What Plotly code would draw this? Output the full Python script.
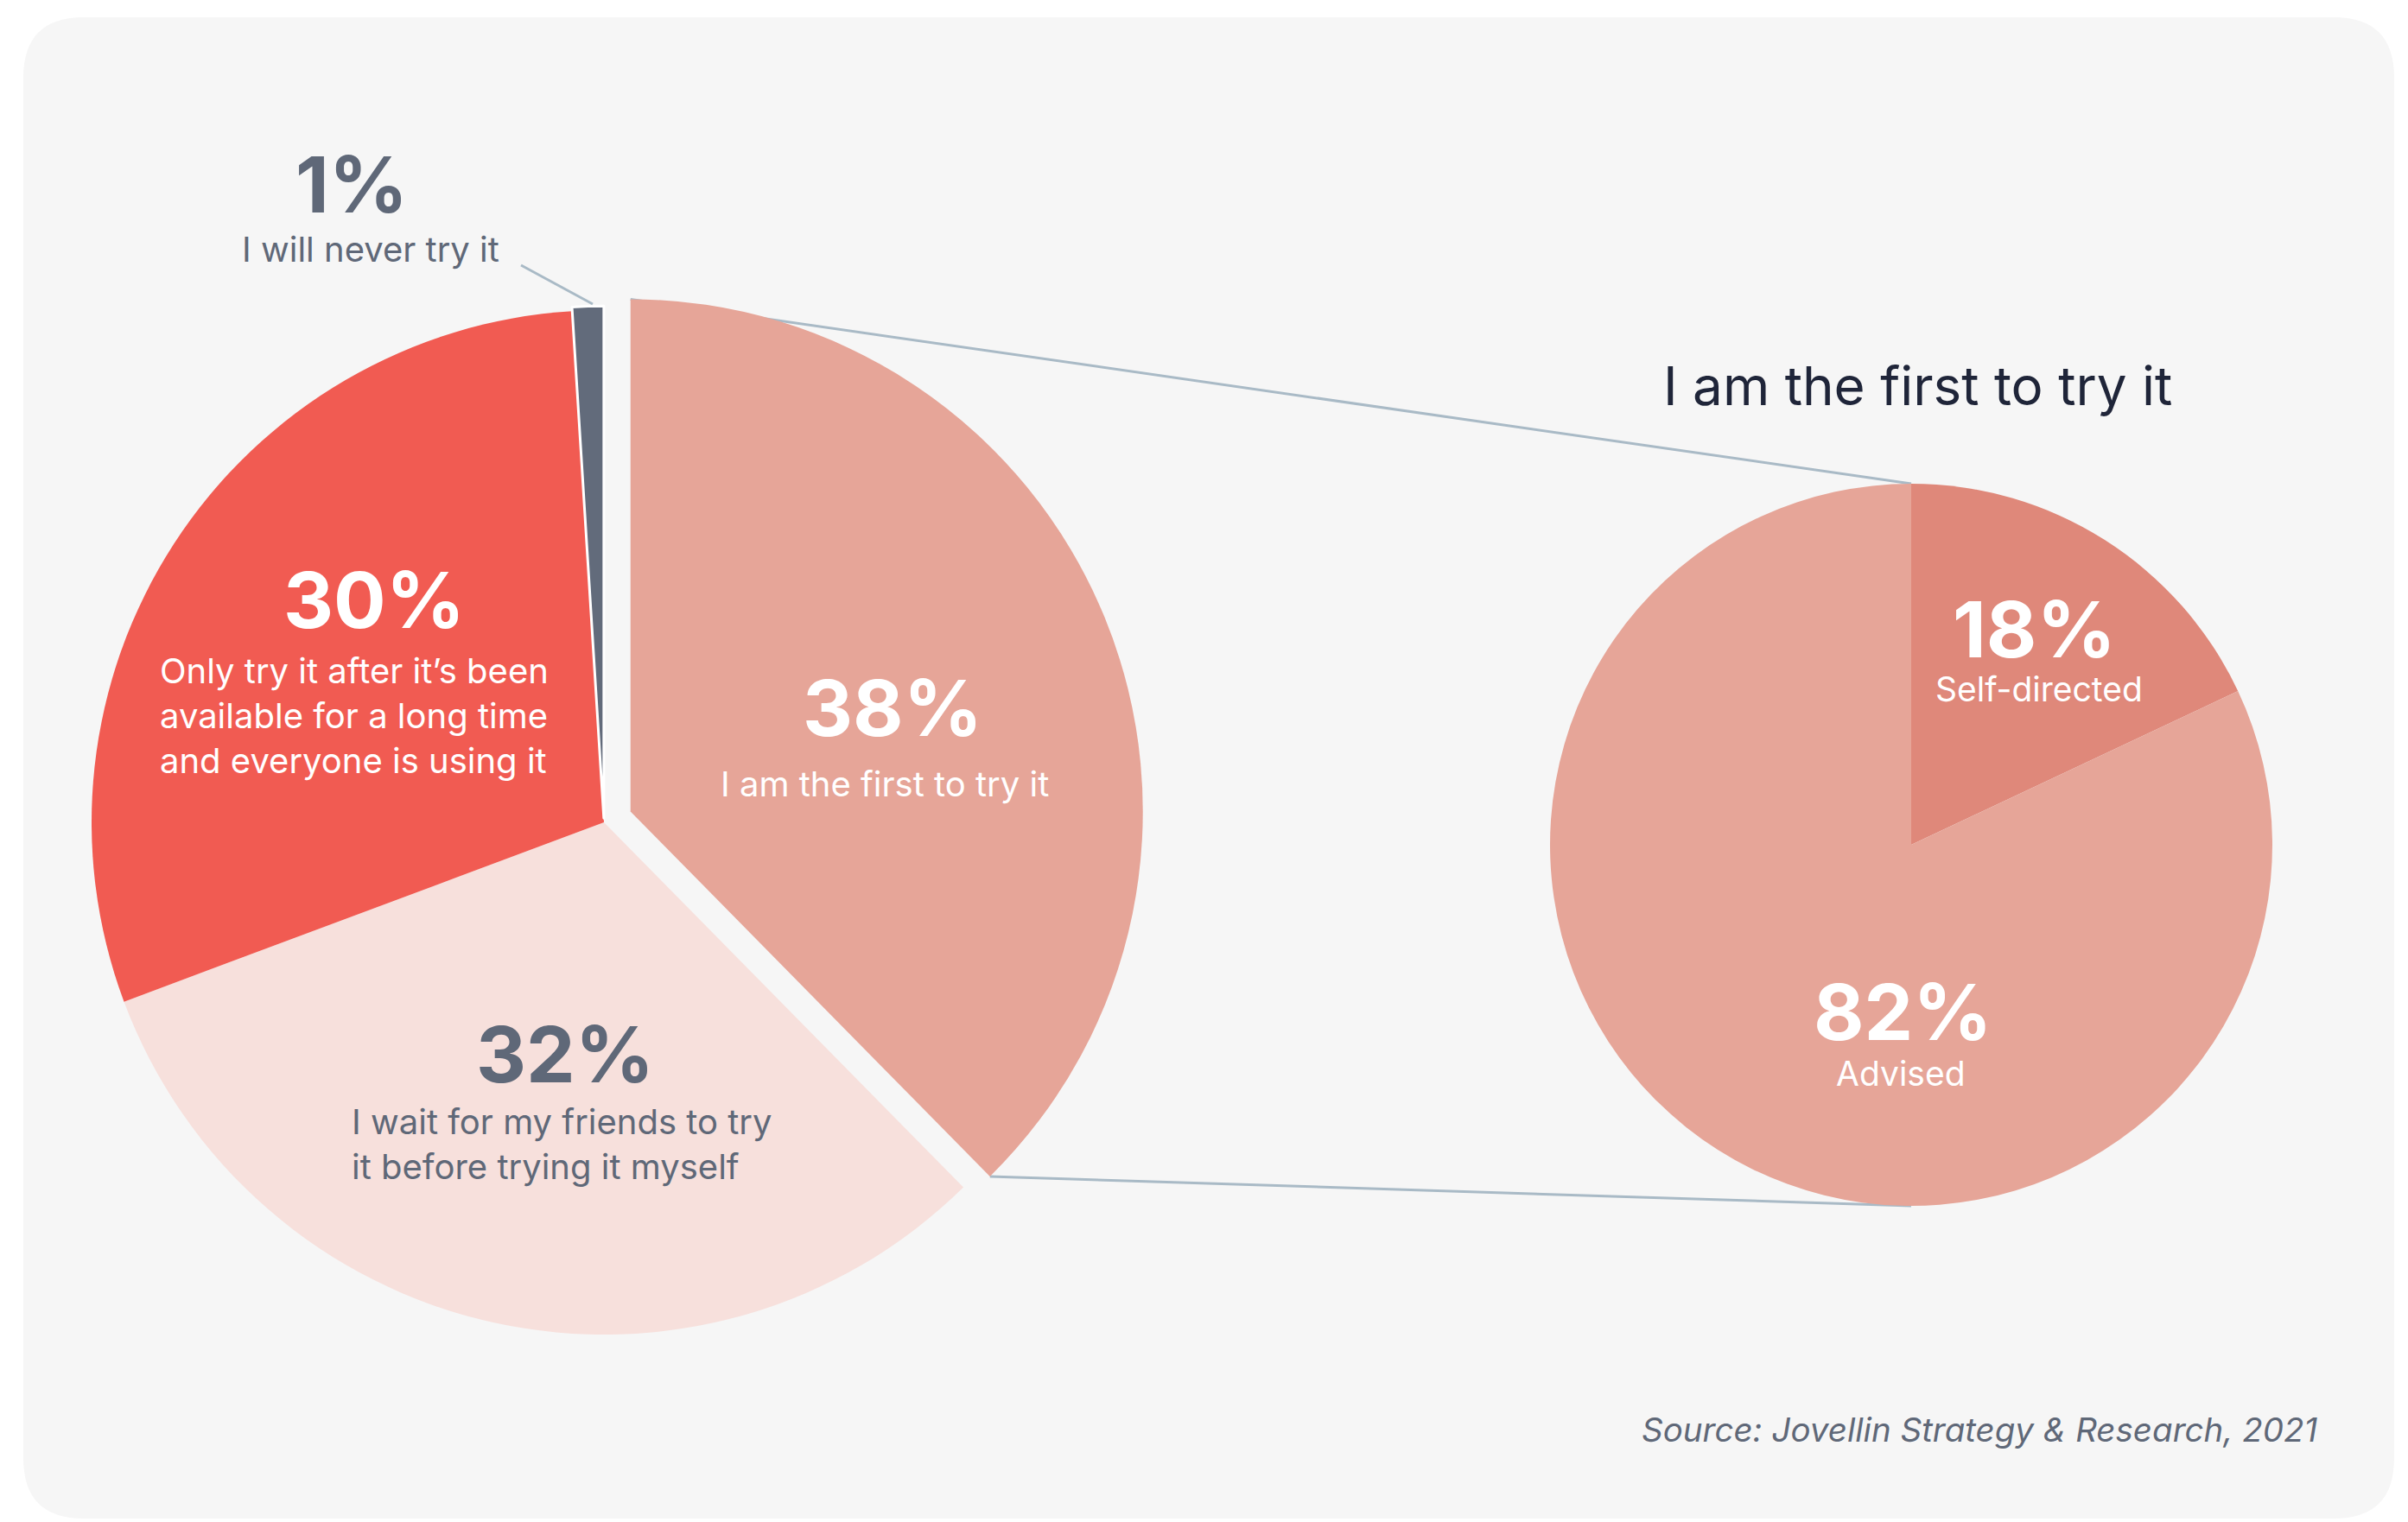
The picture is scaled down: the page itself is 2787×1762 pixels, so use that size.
import math
import plotly.graph_objects as go

# ---- data ----
main_labels = ["I am the first to try it",
               "I wait for my friends to try it before trying it myself",
               "Only try it after it's been available for a long time and everyone is using it",
               "I will never try it"]
main_values = [38, 32, 30, 1]
main_colors = ["#E6A598", "#F7E0DC", "#F15B52", "#626B7B"]
main_pull = [0.056, 0, 0, 0.008]

sub_title = "I am the first to try it"
sub_labels = ["Self-directed", "Advised"]
sub_values = [18, 82]
sub_colors = ["#DF887A", "#E6A598"]

source_text = "Source: Jovellin Strategy & Research, 2021"

# ---- canvas ----
W, H = 2787, 1762
BG = "#F6F6F6"
GREY = "#5F6878"
LINE = "#A9BAC6"
PCT_FONT = "Inter"
TXT_FONT = "Inter"


def xp(px):
    return px / W


def yp(py):
    return 1 - py / H


# pie geometry (pixels)
main_cx, main_cy, main_r = 699, 952, 593
sub_cx, sub_cy, sub_r = 2212, 978, 418
max_pull = max(main_pull)
half_main = main_r * (1 + max_pull)

fig = go.Figure()

fig.add_trace(go.Pie(
    labels=main_labels, values=main_values, sort=False, direction="clockwise",
    rotation=0, pull=main_pull, textinfo="none", hoverinfo="label+percent",
    marker=dict(colors=main_colors,
                line=dict(color=["#FFFFFF"] * 4, width=[0, 0, 0, 3])),
    domain=dict(x=[xp(main_cx - half_main), xp(main_cx + half_main)],
                y=[yp(main_cy + half_main), yp(main_cy - half_main)]),
    showlegend=False,
))

fig.add_trace(go.Pie(
    labels=sub_labels, values=sub_values, sort=False, direction="clockwise",
    rotation=0, textinfo="none", hoverinfo="label+percent",
    marker=dict(colors=sub_colors, line=dict(width=0)),
    domain=dict(x=[xp(sub_cx - sub_r), xp(sub_cx + sub_r)],
                y=[yp(sub_cy + sub_r), yp(sub_cy - sub_r)]),
    showlegend=False,
))

# ---- card background with rounded corners ----
x0, y0, x1, y1, rad = 27, 20, 2771, 1758, 70
card_path = (
    f"M {xp(x0 + rad)} {yp(y0)} L {xp(x1 - rad)} {yp(y0)} "
    f"Q {xp(x1)} {yp(y0)} {xp(x1)} {yp(y0 + rad)} "
    f"L {xp(x1)} {yp(y1 - rad)} Q {xp(x1)} {yp(y1)} {xp(x1 - rad)} {yp(y1)} "
    f"L {xp(x0 + rad)} {yp(y1)} Q {xp(x0)} {yp(y1)} {xp(x0)} {yp(y1 - rad)} "
    f"L {xp(x0)} {yp(y0 + rad)} Q {xp(x0)} {yp(y0)} {xp(x0 + rad)} {yp(y0)} Z"
)
shapes = [dict(type="path", path=card_path, xref="paper", yref="paper",
               fillcolor=BG, line=dict(width=0), layer="below")]

# ---- connector lines from the exploded slice to the breakdown pie ----
total = sum(main_values)
a0 = 0.0
a1 = 360.0 * main_values[0] / total
mid = (a0 + a1) / 2
off = main_pull[0] * main_r
ecx = main_cx + off * math.sin(math.radians(mid))
ecy = main_cy - off * math.cos(math.radians(mid))
p_top = (ecx + main_r * math.sin(math.radians(a0)), ecy - main_r * math.cos(math.radians(a0)))
p_bot = (ecx + main_r * math.sin(math.radians(a1)), ecy - main_r * math.cos(math.radians(a1)))
s_top = (sub_cx, sub_cy - sub_r)
s_bot = (sub_cx, sub_cy + sub_r)
for p, s in [(p_top, s_top), (p_bot, s_bot)]:
    shapes.append(dict(type="line", xref="paper", yref="paper",
                       x0=xp(p[0]), y0=yp(p[1]), x1=xp(s[0]), y1=yp(s[1]),
                       line=dict(color=LINE, width=3), layer="below"))

# leader for the smallest slice
shapes.append(dict(type="line", xref="paper", yref="paper",
                   x0=xp(603), y0=yp(307), x1=xp(686), y1=yp(352),
                   line=dict(color=LINE, width=3), layer="above"))

fig.update_layout(shapes=shapes)


def ann(text, x, y, size, color, bold=False, xanchor="center", align="center",
        italic=False, family=TXT_FONT):
    fig.add_annotation(
        text=text, x=xp(x), y=yp(y), xref="paper", yref="paper",
        xanchor=xanchor, yanchor="middle", align=align, showarrow=False,
        font=dict(family=family, size=size, color=color,
                  weight=700 if bold else 400,
                  style="italic" if italic else "normal"),
    )


PCT = 90
LAB = 40
SUB = 39

# main pie labels
ann(f"{main_values[3]}%", 407, 214, PCT, GREY, bold=True, family=PCT_FONT)
ann("I will never try it", 429, 288, LAB, GREY)

ann(f"{main_values[2]}%", 433, 694, PCT, "#FFFFFF", bold=True, family=PCT_FONT)
ann("Only try it after it\u2019s been<br>available for a long time<br>and everyone is using it",
    183, 829, LAB, "#FFFFFF", xanchor="left", align="left")

ann(f"{main_values[0]}%", 1033, 819, PCT, "#FFFFFF", bold=True, family=PCT_FONT)
ann("I am the first to try it", 1024, 907, LAB, "#FFFFFF")

ann(f"{main_values[1]}%", 654, 1220, PCT, GREY, bold=True, family=PCT_FONT)
ann("I wait for my friends to try<br>it before trying it myself",
    405, 1324, LAB, GREY, xanchor="left", align="left")

# breakdown pie
ann(sub_title, 2219, 447, 62, "#1F2539")
ann(f"{sub_values[0]}%", 2354, 728, PCT, "#FFFFFF", bold=True, family=PCT_FONT)
ann(sub_labels[0], 2360, 798, SUB, "#FFFFFF")
ann(f"{sub_values[1]}%", 2202, 1171, PCT, "#FFFFFF", bold=True, family=PCT_FONT)
ann(sub_labels[1], 2200, 1242, SUB, "#FFFFFF")

# source
ann(source_text, 2684, 1655, 38.5, GREY, xanchor="right", align="right", italic=True)

fig.update_layout(
    width=W, height=H, autosize=False,
    margin=dict(l=0, r=0, t=0, b=0),
    paper_bgcolor="#FFFFFF", plot_bgcolor="#FFFFFF",
    showlegend=False,
)

fig.write_html("out.html")
